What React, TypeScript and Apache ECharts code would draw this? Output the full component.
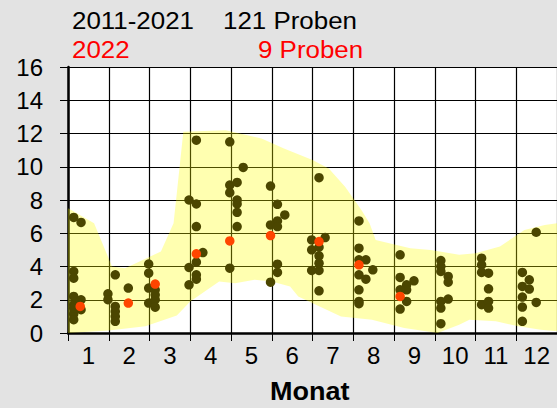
import React, { useEffect, useRef } from "react";
import * as echarts from "echarts";

const monthLabels = ["1", "2", "3", "4", "5", "6", "7", "8", "9", "10", "11", "12"];
const yTicks = [0, 2, 4, 6, 8, 10, 12, 14, 16];

// 2011-2021 samples: [position on month scale (0..12), value]
const historyPoints: [number, number][] = [
  [0.14, 6.95], [0.32, 6.65], [0.14, 3.7], [0.14, 3.3], [0.14, 2.2], [0.32, 2.0], [0.14, 1.7], [0.32, 1.4], [0.14, 1.15], [0.14, 0.8], [0.14, 1.5],
  [0.98, 2.36], [0.98, 2.0], [1.16, 3.5], [1.16, 1.6], [1.16, 1.3], [1.16, 1.0], [1.16, 0.7], [1.48, 2.7],
  [1.98, 4.15], [1.98, 3.6], [1.98, 2.7], [2.14, 2.6], [1.98, 1.8], [2.14, 2.0], [2.14, 1.55], [2.14, 2.3],
  [3.15, 11.6], [2.97, 8.0], [3.15, 7.76], [3.15, 6.4], [3.31, 4.84], [3.15, 4.26], [2.97, 3.94], [3.15, 3.5], [3.15, 3.24], [2.97, 2.9],
  [3.97, 11.5], [4.3, 9.96], [3.97, 8.9], [4.15, 9.06], [3.97, 8.44], [4.15, 8.0], [4.15, 7.76], [4.15, 7.26], [4.15, 6.4], [3.97, 3.9],
  [4.97, 8.84], [5.14, 7.74], [5.32, 7.1], [5.14, 6.74], [4.97, 6.5], [5.14, 6.4], [5.14, 4.14], [5.14, 3.64], [4.97, 3.06],
  [6.16, 9.34], [5.98, 5.6], [6.31, 5.74], [5.98, 5.0], [6.16, 5.16], [6.16, 4.64], [6.16, 4.2], [5.98, 3.76], [6.16, 3.76], [6.16, 2.54],
  [7.14, 6.74], [7.14, 5.1], [7.14, 4.4], [7.31, 4.4], [7.48, 3.8], [7.14, 3.5], [7.31, 3.24], [7.14, 2.6], [7.14, 1.9], [7.14, 1.76],
  [8.15, 4.7], [8.15, 3.34], [8.49, 3.14], [8.31, 2.9], [8.31, 2.6], [8.15, 2.6], [8.31, 1.9], [8.15, 1.44],
  [9.15, 4.36], [9.15, 4.0], [9.15, 3.7], [9.33, 3.4], [9.33, 3.06], [9.33, 2.04], [9.15, 1.9], [9.15, 1.5], [9.15, 0.56],
  [10.15, 4.5], [10.15, 4.1], [10.15, 3.64], [10.32, 3.6], [10.32, 2.66], [10.15, 1.7], [10.32, 1.9], [10.32, 1.5],
  [11.49, 6.06], [11.15, 3.64], [11.32, 3.2], [11.15, 2.8], [11.32, 2.64], [11.15, 2.16], [11.49, 1.84], [11.15, 1.56], [11.15, 0.7],
];

// 2022 samples
const points2022: [number, number][] = [
  [0.3, 1.6], [1.48, 1.8], [2.14, 2.94], [3.15, 4.76], [3.97, 5.54], [4.97, 5.86], [6.16, 5.5], [7.14, 4.1], [8.15, 2.2],
];

// range band (upper and lower envelope)
const bandUpper: [number, number][] = [
  [0, 7.5], [0.08, 7.4], [0.64, 6.6], [1.08, 4.0], [1.4, 3.9], [2.28, 4.9], [2.59, 6.6], [2.67, 8.4], [2.83, 12.1],
  [3.87, 12.2], [4.75, 11.7], [5.3, 11.1], [6.0, 10.4], [6.4, 9.9], [6.8, 8.8], [7.2, 7.4], [7.4, 6.6], [7.55, 5.6],
  [8.4, 5.1], [8.9, 5.0], [9.6, 4.7], [10.0, 4.8], [10.6, 5.2], [11.2, 6.2], [11.7, 6.5], [12, 6.6],
];
const bandLower: [number, number][] = [
  [0, 0], [1.0, 0.15], [1.9, 0.4], [2.67, 1.05], [3.0, 1.9], [3.71, 3.1], [4.1, 3.0], [4.58, 3.2], [5.0, 3.1],
  [5.45, 2.8], [5.65, 2.2], [6.7, 1.0], [7.46, 0.8], [8.25, 0.3], [9.07, 0.0], [9.6, 0.5], [9.85, 0.8], [10.5, 0.7],
  [11.05, 0.4], [11.6, 0.2], [12, 0.1],
];

const FONT = "'Liberation Sans', Arial, sans-serif";

function titleText(text: string, x: number, y: number, fill: string, font: string) {
  return {
    type: "text",
    x,
    y,
    scaleX: 1.08,
    style: { text, font, fill, textAlign: "left", textVerticalAlign: "top" },
  };
}

export default function App() {
  const ref = useRef<HTMLDivElement>(null);
  useEffect(() => {
    document.body.style.margin = "0";
    const chart = echarts.init(ref.current!, null, { renderer: "svg" });
    const option: any = {
      animation: false,
      backgroundColor: "#e3e3e3",
      grid: {
        left: 68,
        top: 67,
        width: 502,
        height: 266,
        show: true,
        backgroundColor: "#ffffff",
        borderWidth: 0,
      },
      xAxis: [
        {
          type: "value",
          min: 0,
          max: 12,
          interval: 1,
          position: "bottom",
          axisLine: { show: true, onZero: false, lineStyle: { color: "#000", width: 2.5 } },
          axisTick: { show: true, length: 8, lineStyle: { color: "#000", width: 1 } },
          axisLabel: { show: false },
          splitLine: { show: true, lineStyle: { color: "#000", width: 1.2 } },
        },
        {
          type: "category",
          data: monthLabels,
          boundaryGap: true,
          position: "bottom",
          axisLine: { show: false },
          axisTick: { show: false },
          splitLine: { show: false },
          axisLabel: { fontSize: 24, color: "#000", fontFamily: FONT, margin: 10 },
        },
      ],
      yAxis: {
        type: "value",
        min: 0,
        max: 16,
        interval: 2,
        axisLine: { show: true, onZero: false, lineStyle: { color: "#000", width: 2.5 } },
        axisTick: { show: true, length: 8, lineStyle: { color: "#000", width: 1 } },
        axisLabel: {
          fontSize: 24,
          color: "#000",
          fontFamily: FONT,
          margin: 25,
          formatter: (v: number) => (yTicks.includes(v) ? String(v) : ""),
        },
        splitLine: { show: true, lineStyle: { color: "#000", width: 1.2 } },
      },
      series: [
        {
          type: "custom",
          xAxisIndex: 0,
          yAxisIndex: 0,
          data: [[0, 0]],
          silent: true,
          z: 1,
          clip: true,
          renderItem: (params: any, api: any) => {
            const pts = bandUpper
              .map((p) => api.coord(p))
              .concat(bandLower.slice().reverse().map((p) => api.coord(p)));
            return {
              type: "polygon",
              shape: { points: pts },
              style: { fill: "rgba(255,255,0,0.31)", stroke: "none" },
            };
          },
        },
        {
          type: "scatter",
          xAxisIndex: 0,
          yAxisIndex: 0,
          data: historyPoints,
          symbol: "circle",
          symbolSize: 9.5,
          itemStyle: { color: "#4b4600", opacity: 1 },
          z: 3,
        },
        {
          type: "scatter",
          xAxisIndex: 0,
          yAxisIndex: 0,
          data: points2022,
          symbol: "circle",
          symbolSize: 9.5,
          itemStyle: { color: "#ff4500", opacity: 1 },
          z: 4,
        },
      ],
      graphic: [
        titleText("2011-2021", 72, 8, "#000", `24px ${FONT}`),
        titleText("121 Proben", 223, 8, "#000", `24px ${FONT}`),
        titleText("2022", 72, 37, "#ff0000", `24px ${FONT}`),
        titleText("9 Proben", 258, 37, "#ff0000", `24px ${FONT}`),
        titleText("Monat", 270, 379, "#000", `bold 25px ${FONT}`),
      ],
    };
    chart.setOption(option);
    return () => chart.dispose();
  }, []);
  return <div ref={ref} style={{ position: "fixed", left: 0, top: 0, width: 557, height: 408 }} />;
}
